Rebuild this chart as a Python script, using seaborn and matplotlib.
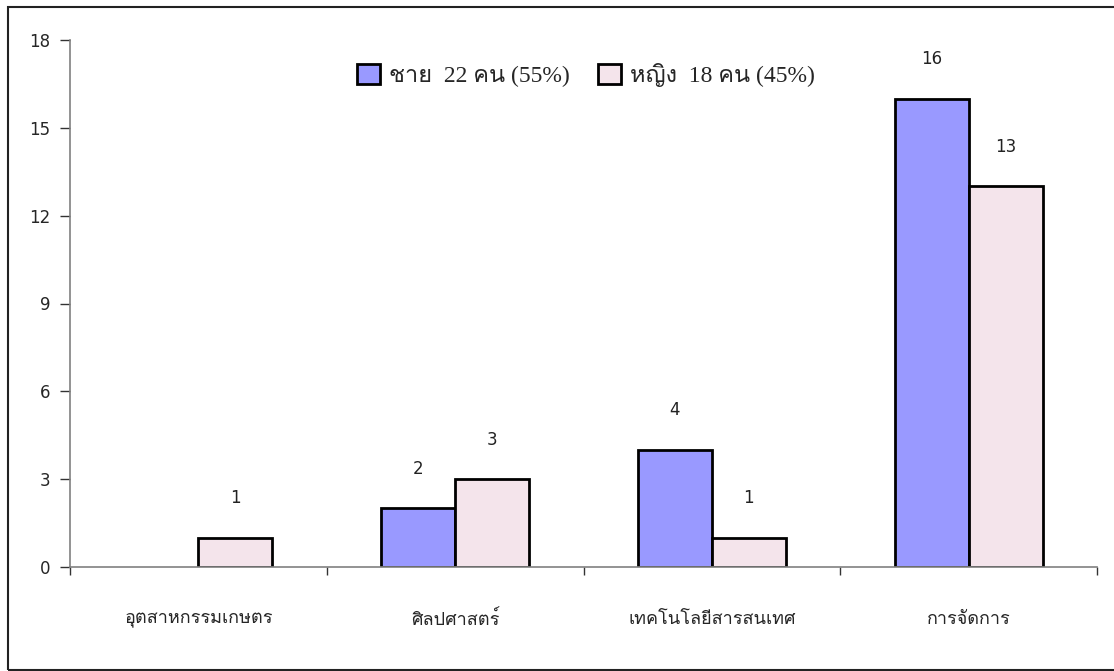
import numpy as np
import pandas as pd
import seaborn as sns
import matplotlib
matplotlib.use('Agg')
import matplotlib.pyplot as plt
import matplotlib.patches as mpatches
from matplotlib import font_manager
from matplotlib.ft2font import FT2Font

# data
faculties = ['อุตสาหกรรมเกษตร', 'ศิลปศาสตร์', 'เทคโนโลยีสารสนเทศ', 'การจัดการ']
male   = [0, 2, 4, 16]
female = [1, 3, 1, 13]
groups = ['ชาย  22 คน (55%)', 'หญิง  18 คน (45%)']

# look for an installed font that has thai glyphs
thai_font = None
for f in font_manager.fontManager.ttflist:
    try:
        if ord('ก') in FT2Font(f.fname).get_charmap():
            thai_font = f.name
            break
    except Exception:
        pass

sans = ['DejaVu Sans'] + ([thai_font] if thai_font else [])
serif = ['Liberation Serif'] + ([thai_font] if thai_font else [])

sns.set_style('white')
plt.rcParams['font.family'] = sans

df = pd.DataFrame({
    'faculty': faculties * 2,
    'count': male + female,
    'sex': [groups[0]] * 4 + [groups[1]] * 4,
})

fig = plt.figure(figsize=(11.14, 6.71), dpi=100)
ax = fig.add_axes([70/1114, 1-567/671, (1097-70)/1114, (567-40)/671])

sns.barplot(data=df, x='faculty', y='count', hue='sex', order=faculties,
            hue_order=groups, palette=['#9999FF', '#F4E4EB'], width=0.576,
            edgecolor='black', linewidth=2, saturation=1, ax=ax, legend=False)

# hide the empty bar and label the rest
for cont in ax.containers:
    labs = []
    for p in cont:
        h = p.get_height()
        if h == 0:
            p.set_visible(False)
            labs.append('')
        else:
            labs.append('%d' % h)
    ax.bar_label(cont, labels=labs, padding=22, fontsize=12, color='#222222')

ax.set_xlim(-0.5, 3.5)
ax.set_ylim(0, 18)
ax.set_yticks(np.arange(0, 19, 3))
ax.set_xlabel('')
ax.set_ylabel('')

for s in ['top', 'right']:
    ax.spines[s].set_visible(False)
for s in ['left', 'bottom']:
    ax.spines[s].set_color('#808080')
    ax.spines[s].set_linewidth(1.2)

ax.set_xticks(np.arange(-0.5, 4, 1), minor=True)
ax.tick_params(axis='x', which='major', length=0, pad=31, labelsize=13)
ax.tick_params(axis='x', which='minor', length=6, width=1, color='#333333', direction='out', bottom=True)
ax.tick_params(axis='y', length=7, width=1, color='#333333', direction='out', left=True, pad=7, labelsize=12)

handles = [mpatches.Patch(facecolor='#9999FF', edgecolor='black', linewidth=2),
           mpatches.Patch(facecolor='#F4E4EB', edgecolor='black', linewidth=2)]
fig.legend(handles, groups, loc='upper left', bbox_to_anchor=(336/1114, 1-42/671),
           ncol=2, frameon=False, handlelength=0.95, handleheight=0.95,
           handletextpad=0.4, columnspacing=1.2, prop={'family': serif, 'size': 17})

# outer chart frame
fig.patches.append(mpatches.Rectangle((8/1114, 1-670/671), 1.1, (670-7)/671,
                                      transform=fig.transFigure, fill=False,
                                      edgecolor='#222222', linewidth=1.5))

fig.savefig('out.png', dpi=100)
